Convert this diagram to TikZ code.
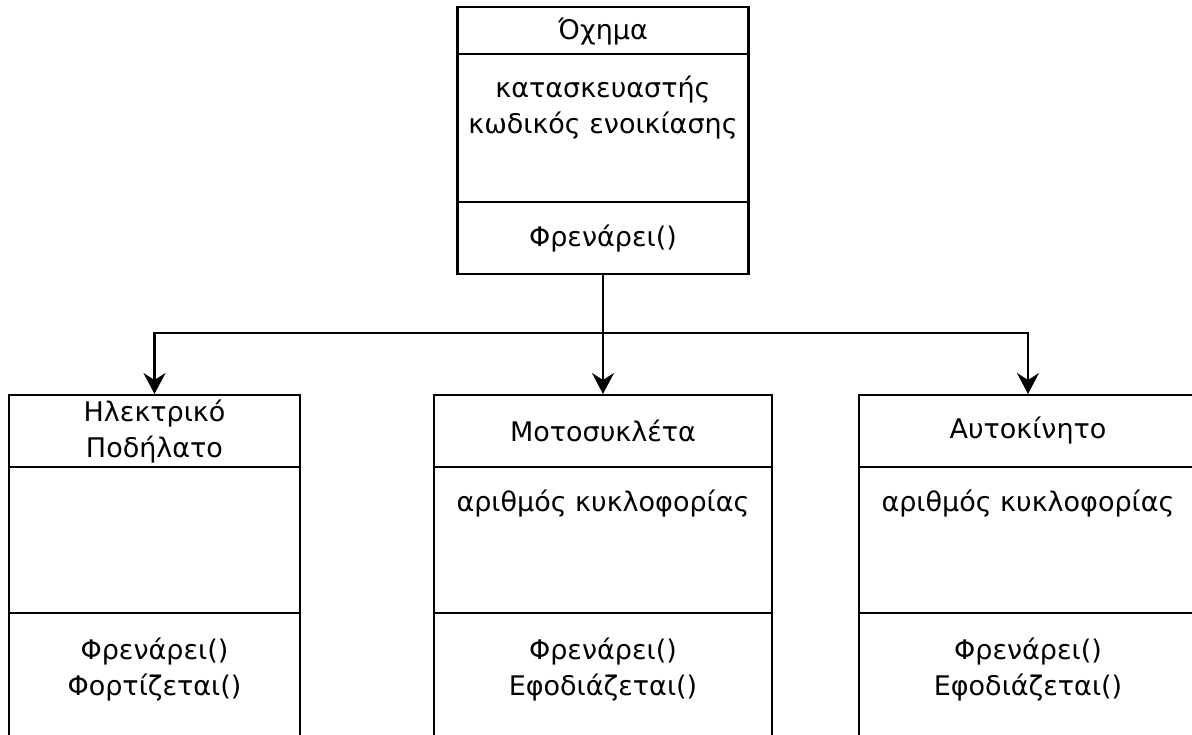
\documentclass[tikz,border=0pt]{standalone}
\usepackage{fontspec}
\setmainfont{DejaVu Sans}
\usetikzlibrary{arrows.meta}
\tikzset{
  cls/.style={draw, line width=2.3pt, rectangle, inner sep=0pt, anchor=north},
  sep/.style={line width=2.3pt},
  txt/.style={font=\fontsize{27}{36}\selectfont, align=center, inner sep=0pt},
  arr/.style={line width=2.3pt, -{Stealth[length=21pt, width=22pt, inset=7pt]}}
}
\begin{document}
\begin{tikzpicture}[x=1pt, y=-1pt]
\useasboundingbox (0,0) rectangle (1192,735);
\clip (0,0) rectangle (1192,735);
\fill[white] (0,0) rectangle (1192,735);
% top class
\node[cls, minimum width=291pt, minimum height=267pt] (oxima) at (603,6) {};
\draw[sep] (oxima.west |- 0,54) -- (oxima.east |- 0,54);
\draw[sep] (oxima.west |- 0,202) -- (oxima.east |- 0,202);
\node[txt] (oxt) at (603,32) {Όχημα};
\node[txt] (oxa) at (603,108) {κατασκευαστής\\κωδικός ενοικίασης};
\node[txt] (oxm) at (603,239) {Φρενάρει()};
% bottom classes
\node[cls, minimum width=291pt, minimum height=420pt] (ilek) at (154.5,394) {};
\node[cls, minimum width=338pt, minimum height=420pt] (moto) at (603,394) {};
\node[cls, minimum width=338pt, minimum height=420pt] (auto) at (1028,394) {};
\foreach \n in {ilek,moto,auto}{
  \draw[sep] (\n.west |- 0,467) -- (\n.east |- 0,467);
  \draw[sep] (\n.west |- 0,613) -- (\n.east |- 0,613);
}
\node[txt] (ilt) at (154.5,432) {Ηλεκτρικό\\Ποδήλατο};
\node[txt] (ilm) at (154.5,670) {Φρενάρει()\\Φορτίζεται()};
\node[txt] (mot) at (603,431) {Μοτοσυκλέτα};
\node[txt] (moa) at (603,504) {αριθμός κυκλοφορίας};
\node[txt] (mom) at (603,670) {Φρενάρει()\\Εφοδιάζεται()};
\node[txt] (aut) at (1028,431) {Αυτοκίνητο};
\node[txt] (aua) at (1028,504) {αριθμός κυκλοφορίας};
\node[txt] (aum) at (1028,670) {Φρενάρει()\\Εφοδιάζεται()};
% connectors
\coordinate (j) at (603,333);
\draw[arr] (oxima.south) -- (moto.north);
\draw[arr] (j) -| (ilek.north);
\draw[arr] (j) -| (auto.north);
\end{tikzpicture}
\end{document}
